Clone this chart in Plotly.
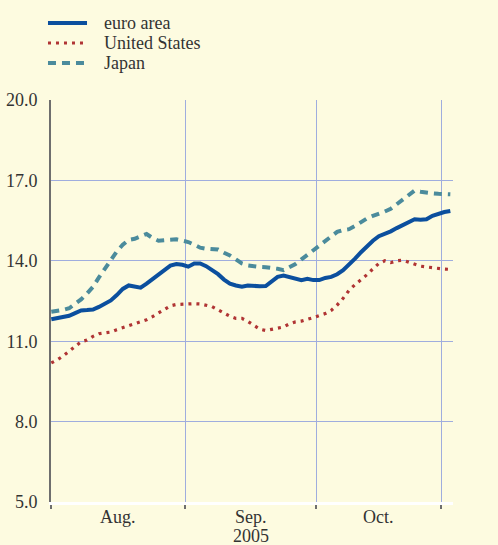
import plotly.graph_objects as go
import pandas as pd

# business days from 1 Aug 2005 to 2 Nov 2005 (x positions by trading day)
dates = pd.bdate_range("2005-08-01", "2005-11-02")
day_index = list(range(len(dates)))

euro_area = [11.82, 11.86, 11.90, 11.95, 12.05, 12.15, 12.16, 12.18, 12.28, 12.40,
             12.52, 12.72, 12.95, 13.08, 13.03, 13.00, 13.15, 13.32, 13.52, 13.68,
             13.82, 13.88, 13.85, 13.78, 13.90, 13.90, 13.80, 13.65, 13.50, 13.30,
             13.15, 13.08, 13.03, 13.08, 13.05, 13.05, 13.06, 13.22, 13.40, 13.45,
             13.40, 13.35, 13.28, 13.33, 13.28, 13.28, 13.36, 13.40, 13.50, 13.65,
             13.85, 14.08, 14.32, 14.55, 14.75, 14.92, 15.00, 15.10, 15.22, 15.32,
             15.45, 15.55, 15.53, 15.55, 15.68, 15.76, 15.82, 15.86]

united_states = [10.19, 10.30, 10.45, 10.62, 10.82, 10.98, 11.04, 11.18, 11.28, 11.31,
                 11.34, 11.43, 11.50, 11.57, 11.65, 11.70, 11.80, 11.92, 12.05, 12.19,
                 12.32, 12.37, 12.39, 12.40, 12.40, 12.39, 12.35, 12.29, 12.17, 12.04,
                 11.93, 11.85, 11.85, 11.74, 11.60, 11.45, 11.40, 11.44, 11.46, 11.53,
                 11.65, 11.72, 11.75, 11.80, 11.88, 11.96, 12.03, 12.15, 12.35, 12.60,
                 12.90, 13.11, 13.28, 13.48, 13.70, 13.90, 14.00, 13.93, 14.00, 14.02,
                 13.95, 13.87, 13.80, 13.77, 13.74, 13.70, 13.69, 13.68]

japan = [12.10, 12.13, 12.17, 12.23, 12.38, 12.56, 12.78, 13.03, 13.38, 13.70,
         14.00, 14.35, 14.60, 14.78, 14.82, 14.90, 15.00, 14.85, 14.75, 14.77,
         14.80, 14.80, 14.75, 14.70, 14.60, 14.49, 14.45, 14.44, 14.42, 14.30,
         14.20, 14.05, 13.90, 13.83, 13.79, 13.77, 13.76, 13.74, 13.70, 13.65,
         13.75, 13.88, 14.05, 14.22, 14.40, 14.55, 14.72, 14.90, 15.08, 15.15,
         15.18, 15.30, 15.45, 15.58, 15.68, 15.75, 15.84, 15.94, 16.10, 16.28,
         16.45, 16.62, 16.58, 16.54, 16.52, 16.50, 16.49, 16.48]

series_names = ["euro area", "United States", "Japan"]
series_colors = ["#0b4f9e", "#b03434", "#4b8b9c"]
series_dash = ["solid", "3px,5px", "8px,6px"]
series_width = [4, 3.2, 4]

y_ticks = [5.0, 8.0, 11.0, 14.0, 17.0, 20.0]
y_ticktext = ["5.0", "8.0", "11.0", "14.0", "17.0", "20.0"]
month_bounds = [0, 22.5, 44.5, 65.5]
month_mid = [11.25, 33.5, 55.0]
month_labels = ["Aug.", "Sep.", "Oct."]
year_label = "2005"

FONT = "Times New Roman"
FS = 18
BG = "#fdfbe0"
GRID = "#9fadde"
AXIS = "#6e6e6e"
TXT = "#333333"

fig = go.Figure()
for name, vals, col, dash, w in zip(series_names, [euro_area, united_states, japan],
                                    series_colors, series_dash, series_width):
    fig.add_trace(go.Scatter(x=day_index, y=vals, name=name, mode="lines",
                             line=dict(color=col, width=w, dash=dash)))

# legend drawn in the top margin (paper coordinates)
legend_rows = [1.1915, 1.1418, 1.0920]
for name, col, dash, w, yy in zip(series_names, series_colors, series_dash,
                                  series_width, legend_rows):
    fig.add_shape(type="line", xref="paper", yref="paper", x0=-0.0075, x1=0.0896,
                  y0=yy, y1=yy, line=dict(color=col, width=w, dash=dash))
    fig.add_annotation(xref="paper", yref="paper", x=0.127, y=yy, text=name,
                       showarrow=False, xanchor="left", yanchor="middle",
                       font=dict(family=FONT, size=FS, color=TXT))

# month labels centred between the month boundaries, year under September
for xm, lab in zip(month_mid, month_labels):
    fig.add_annotation(xref="x", yref="paper", x=xm, y=-0.0373, text=lab,
                       showarrow=False, xanchor="center", yanchor="middle", borderpad=0,
                       font=dict(family=FONT, size=FS, color=TXT))
fig.add_annotation(xref="x", yref="paper", x=month_mid[1], y=-0.0846, text=year_label,
                   showarrow=False, xanchor="center", yanchor="middle", borderpad=0,
                   font=dict(family=FONT, size=FS, color=TXT))

fig.update_layout(
    width=498, height=545,
    paper_bgcolor=BG, plot_bgcolor=BG,
    margin=dict(l=51, r=45, t=100, b=43, autoexpand=False),
    font=dict(family=FONT, size=FS, color=TXT),
    showlegend=False,
    xaxis=dict(range=[-0.05, 67.45], showticklabels=False,
               ticks="", showgrid=False, zeroline=False,
               showline=True, linecolor="#ffffff", linewidth=3,
               minor=dict(tickvals=month_bounds, showgrid=True, gridcolor=GRID, gridwidth=1,
                          ticks="outside", ticklen=4, tickcolor=AXIS, tickwidth=1.5)),
    yaxis=dict(range=[5, 20], tickvals=y_ticks, ticktext=y_ticktext, ticks="",
               showgrid=True, gridcolor=GRID, gridwidth=1, zeroline=False,
               showline=True, linecolor=AXIS, linewidth=2, ticklabelstandoff=8,
               tickfont=dict(family=FONT, size=FS, color=TXT)),
    yaxis2=dict(range=[5, 20], tickvals=y_ticks, ticktext=y_ticktext, ticks="",
                overlaying="y", side="right", showgrid=False, zeroline=False,
                showline=True, linecolor=AXIS, linewidth=2, ticklabelstandoff=9,
                tickfont=dict(family=FONT, size=FS, color=TXT)),
)

fig.write_html("out.html", config={"displayModeBar": False},
               post_script="document.body.style.margin='0';document.body.style.background='#fdfbe0';")
